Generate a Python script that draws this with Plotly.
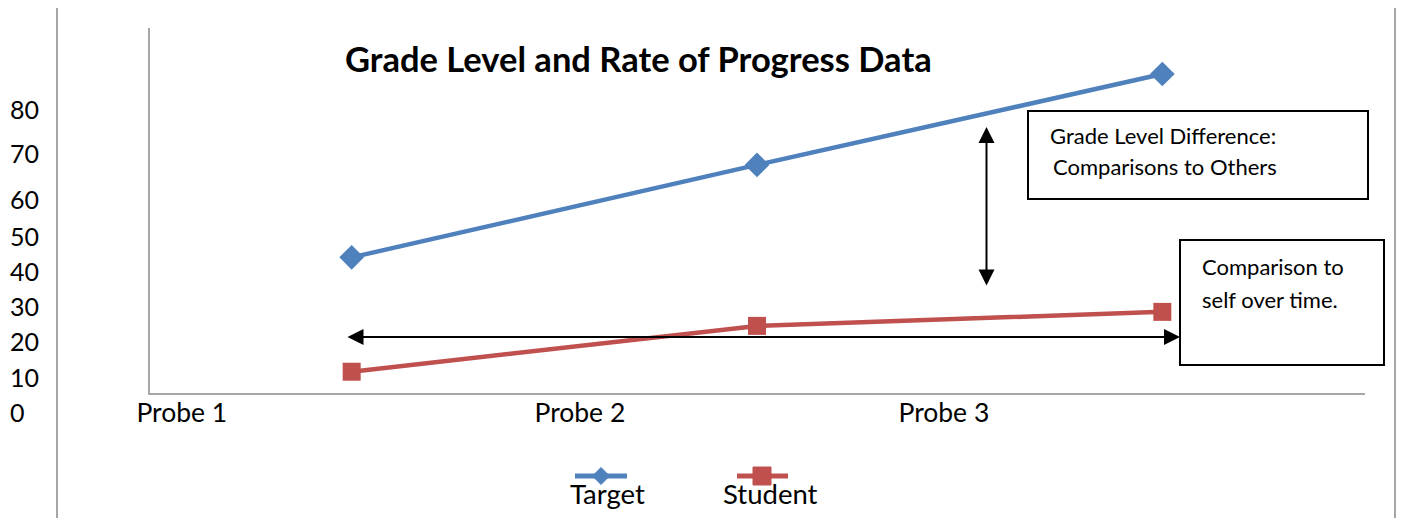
import plotly.graph_objects as go

# ---- data ----
categories = ["Probe 1", "Probe 2", "Probe 3"]
target = [41.1, 65.5, 89.5]
student = [10.9, 23.0, 26.7]
ytick_text = ["0", "10", "20", "30", "40", "50", "60", "70", "80"]
# where the (unevenly spaced) y labels sit, in axis units
ytick_vals = [0, 9.2, 18.7, 28.0, 37.2, 46.5, 56.2, 68.4, 80]
# where the category labels sit, in axis units (offset from points)
xtick_vals = [-0.419, 0.563, 1.461]

W, H = 1401, 518
FONT = "Lato"
BLUE = "#4F81BD"
RED = "#C0504D"
GRAY = "#A6A6A6"


def px(x):
    return x / W


def py(y):
    return 1 - y / H


x_idx = list(range(len(categories)))

fig = go.Figure()
fig.add_trace(go.Scatter(x=x_idx, y=target, name="Target", mode="lines+markers",
                         line=dict(color=BLUE, width=4.5),
                         marker=dict(symbol="diamond", size=19, color=BLUE)))
fig.add_trace(go.Scatter(x=x_idx, y=student, name="Student", mode="lines+markers",
                         line=dict(color=RED, width=4.5),
                         marker=dict(symbol="square", size=18, color=RED)))

shapes = []
# outer frame vertical lines
shapes.append(dict(type="line", xref="paper", yref="paper", x0=px(57), x1=px(57), y0=py(8), y1=py(518),
                   line=dict(color=GRAY, width=2)))
shapes.append(dict(type="line", xref="paper", yref="paper", x0=px(1395), x1=px(1395), y0=py(8), y1=py(518),
                   line=dict(color=GRAY, width=2)))
# inner plot frame (left and bottom)
shapes.append(dict(type="line", xref="paper", yref="paper", x0=px(149), x1=px(149), y0=py(28), y1=py(394),
                   line=dict(color=GRAY, width=2)))
shapes.append(dict(type="line", xref="paper", yref="paper", x0=px(148), x1=px(1365), y0=py(394), y1=py(394),
                   line=dict(color=GRAY, width=2)))
# text boxes
shapes.append(dict(type="rect", xref="paper", yref="paper", x0=px(1028), x1=px(1368), y0=py(111), y1=py(199),
                   line=dict(color="black", width=2), fillcolor="white", layer="above"))
shapes.append(dict(type="rect", xref="paper", yref="paper", x0=px(1180), x1=px(1384), y0=py(240), y1=py(365),
                   line=dict(color="black", width=2), fillcolor="white", layer="above"))
# legend samples
shapes.append(dict(type="line", xref="paper", yref="paper", x0=px(575), x1=px(627), y0=py(476), y1=py(476),
                   line=dict(color=BLUE, width=5)))
d = 8.5
shapes.append(dict(type="path", xref="paper", yref="paper",
                   path=f"M {px(601)},{py(476-d)} L {px(601+d)},{py(476)} L {px(601)},{py(476+d)} L {px(601-d)},{py(476)} Z",
                   line=dict(color=BLUE, width=1), fillcolor=BLUE))
shapes.append(dict(type="line", xref="paper", yref="paper", x0=px(737), x1=px(788), y0=py(476), y1=py(476),
                   line=dict(color=RED, width=5)))
s = 9
shapes.append(dict(type="rect", xref="paper", yref="paper", x0=px(762-s), x1=px(762+s), y0=py(476-s), y1=py(476+s),
                   line=dict(color=RED, width=1), fillcolor=RED))

annotations = []
annotations.append(dict(xref="paper", yref="paper", x=px(638.5), y=py(58), text="<b>Grade Level and Rate of Progress Data</b>",
                        showarrow=False, xanchor="center", yanchor="middle",
                        font=dict(family=FONT, size=34.5, color="black")))
for txt, x0, y0 in [("Grade Level Difference:", 1048, 136), ("Comparisons to Others", 1051, 166),
                    ("Comparison to", 1200, 266), ("self over time.", 1200, 299)]:
    annotations.append(dict(xref="paper", yref="paper", x=px(x0), y=py(y0), text=txt, showarrow=False,
                            xanchor="left", yanchor="middle", font=dict(family=FONT, size=22, color="black")))
for txt, xc in [("Target", 607), ("Student", 770)]:
    annotations.append(dict(xref="paper", yref="paper", x=px(xc), y=py(493), text=txt, showarrow=False,
                            xanchor="center", yanchor="middle", font=dict(family=FONT, size=27.5, color="black")))
# arrows
annotations.append(dict(xref="paper", yref="paper", x=px(1180), y=py(337), ax=346 - 1180, ay=0, text="",
                        showarrow=True, arrowside="end+start", arrowhead=2, arrowsize=1.6, arrowwidth=2,
                        arrowcolor="black", standoff=0, startstandoff=0))
annotations.append(dict(xref="paper", yref="paper", x=px(986.5), y=py(127), ax=0, ay=287 - 127, text="",
                        showarrow=True, arrowside="end+start", arrowhead=2, arrowsize=1.6, arrowwidth=2,
                        arrowcolor="black", standoff=0, startstandoff=0))

fig.update_layout(
    width=W, height=H, autosize=False,
    margin=dict(l=0, r=0, t=0, b=0, pad=0),
    paper_bgcolor="white", plot_bgcolor="rgba(0,0,0,0)",
    showlegend=False,
    shapes=shapes, annotations=annotations,
    xaxis=dict(domain=[px(149), px(1365)], range=[-0.5, 2.5], anchor="free", position=py(394),
               automargin=False,
               showline=False, showgrid=False, zeroline=False,
               tickmode="array", tickvals=xtick_vals, ticktext=categories, ticks="",
               tickfont=dict(family=FONT, size=26.5, color="black")),
    yaxis=dict(domain=[0, 1], range=[(413 - 518) / 3.7875, 413 / 3.7875], anchor="free", position=px(9),
               automargin=False,
               side="right", showline=False, showgrid=False, zeroline=False,
               tickmode="array", tickvals=ytick_vals, ticktext=ytick_text, ticks="",
               tickfont=dict(family=FONT, size=25, color="black")),
)

fig.write_html("out.html", config={"displayModeBar": False},
               post_script="document.body.style.margin='0';document.body.style.overflow='hidden';")
